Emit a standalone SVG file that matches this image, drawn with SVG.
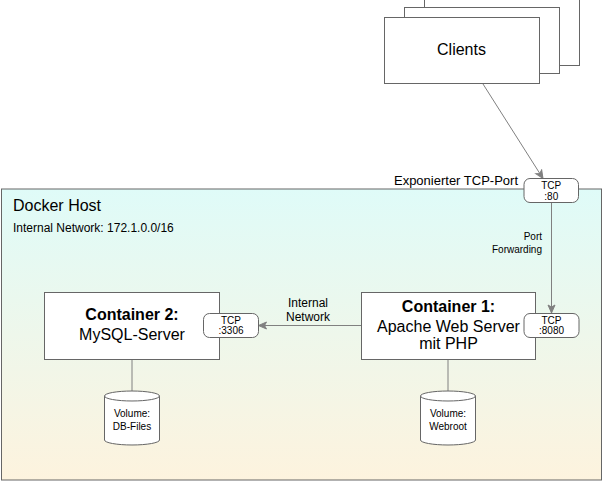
<svg xmlns="http://www.w3.org/2000/svg" width="606" height="482" viewBox="0 0 606 482">
<defs>
<linearGradient id="hostGrad" x1="0" y1="0" x2="0" y2="1">
<stop offset="0" stop-color="#dffbf8"/>
<stop offset="1" stop-color="#fdf3de"/>
</linearGradient>
<marker id="arr" markerWidth="10" markerHeight="10" refX="9" refY="5" orient="auto" markerUnits="userSpaceOnUse">
<path d="M1,1.5 L9,5 L1,8.5 L3,5 Z" fill="#808080" stroke="#808080" stroke-width="1"/>
</marker>
</defs>
<style>
text{font-family:"Liberation Sans",Arial,sans-serif;fill:#000}
.box{fill:#fff;stroke:#666;stroke-width:1}
.port{fill:#fff;stroke:#666;stroke-width:1}
.conn{fill:none;stroke:#808080;stroke-width:1}
.plain{fill:none;stroke:#808080;stroke-width:1}
.t16{font-size:16px}
.t12{font-size:12px}
.t13{font-size:13px}
.t10{font-size:10px}
.mid{text-anchor:middle}
.end{text-anchor:end}
</style>

<g id="docker-host">
<rect x="1.5" y="189" width="600" height="291" fill="url(#hostGrad)" stroke="#666" stroke-width="1"/>
<text x="13" y="211" class="t16">Docker Host</text>
<text x="13" y="231.5" class="t12">Internal Network: 172.1.0.0/16</text>
</g>

<g id="clients">
<rect x="424.5" y="-0.5" width="155" height="66" class="box"/>
<rect x="404.5" y="7.5" width="155" height="66" class="box"/>
<rect x="384.5" y="17.5" width="155" height="66" class="box"/>
<text x="461.5" y="55" class="t16 mid">Clients</text>
</g>

<g id="connectors">
<line x1="483" y1="84" x2="543" y2="178.5" class="conn" marker-end="url(#arr)"/>
<line x1="551.5" y1="203" x2="551.5" y2="313" class="conn" marker-end="url(#arr)"/>
<line x1="361" y1="325.5" x2="258.5" y2="325.5" class="conn" marker-end="url(#arr)"/>
<line x1="132" y1="359" x2="132" y2="391" class="plain"/>
<line x1="448" y1="359" x2="448" y2="391" class="plain"/>
<text x="518" y="184.5" class="t13 end">Exponierter TCP-Port</text>
<text x="542" y="240" class="t10 end">Port</text>
<text x="542" y="253" class="t10 end">Forwarding</text>
<text x="308" y="307" class="t12 mid">Internal</text>
<text x="308" y="320.5" class="t12 mid">Network</text>
</g>

<g id="port-80">
<rect x="524" y="178.5" width="54.5" height="24" rx="6" class="port"/>
<text x="551.25" y="188.5" class="t10 mid">TCP</text>
<text x="551.25" y="199.5" class="t10 mid">:80</text>
</g>

<g id="container-1">
<rect x="361.5" y="292.5" width="174" height="67" class="box"/>
<text x="448.5" y="312" class="t16 mid" font-weight="bold">Container 1:</text>
<text x="448.5" y="331.5" class="t16 mid">Apache Web Server</text>
<text x="448.5" y="349" class="t16 mid">mit PHP</text>
</g>

<g id="port-8080">
<rect x="524" y="313.5" width="55" height="24" rx="6" class="port"/>
<text x="551.5" y="323.5" class="t10 mid">TCP</text>
<text x="551.5" y="334" class="t10 mid">:8080</text>
</g>

<g id="container-2">
<rect x="44.5" y="292.5" width="175" height="67" class="box"/>
<text x="132" y="320" class="t16 mid" font-weight="bold">Container 2:</text>
<text x="132" y="340" class="t16 mid">MySQL-Server</text>
</g>

<g id="port-3306">
<rect x="203.5" y="313.5" width="55" height="24" rx="6" class="port"/>
<text x="231" y="323.5" class="t10 mid">TCP</text>
<text x="231" y="334" class="t10 mid">:3306</text>
</g>

<g id="volume-db">
<path d="M104.5,396 a27.5,5 0 0 1 55,0 v44 a27.5,5 0 0 1 -55,0 Z" class="box"/>
<path d="M104.5,396 a27.5,5 0 0 0 55,0" class="box" fill="none"/>
<text x="132" y="417" class="t10 mid">Volume:</text>
<text x="132" y="429.5" class="t10 mid">DB-Files</text>
</g>

<g id="volume-web">
<path d="M420.5,396 a27.5,5 0 0 1 55,0 v44 a27.5,5 0 0 1 -55,0 Z" class="box"/>
<path d="M420.5,396 a27.5,5 0 0 0 55,0" class="box" fill="none"/>
<text x="448" y="417" class="t10 mid">Volume:</text>
<text x="448" y="429.5" class="t10 mid">Webroot</text>
</g>
</svg>
